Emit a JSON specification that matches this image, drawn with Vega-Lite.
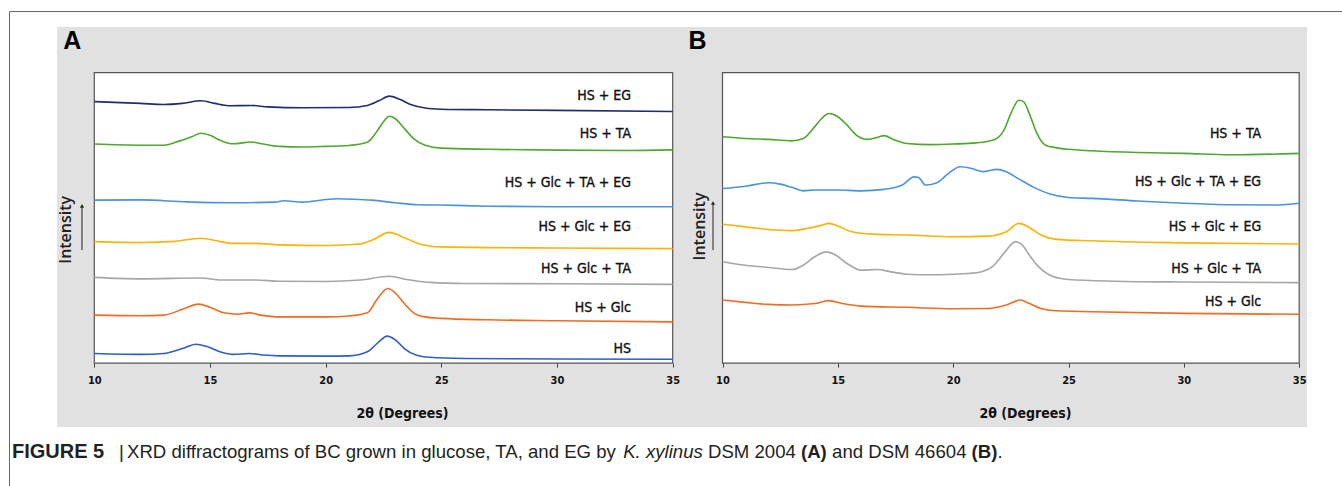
{
  "$schema": "https://vega.github.io/schema/vega-lite/v6.json",
  "background": "white",
  "padding": {"left": 9, "top": 11, "right": 0, "bottom": 0},
  "bounds": "flush",
  "config": {"view": {"stroke": null}, "axis": {"grid": false}, "font": "Liberation Sans"},
  "spacing": 0,
  "resolve": {"scale": {"x": "independent", "y": "independent"}},
  "datasets": {
    "xrd": [
      {"panel":"A","series":"HS + EG","x":10,"y":90.0},{"panel":"A","series":"HS + EG","x":12,"y":89.4},{"panel":"A","series":"HS + EG","x":13,"y":89.0},{"panel":"A","series":"HS + EG","x":13.8,"y":89.4},{"panel":"A","series":"HS + EG","x":14.6,"y":90.3},{"panel":"A","series":"HS + EG","x":15.2,"y":89.4},{"panel":"A","series":"HS + EG","x":15.8,"y":88.6},{"panel":"A","series":"HS + EG","x":16.8,"y":88.7},{"panel":"A","series":"HS + EG","x":17.5,"y":88.2},{"panel":"A","series":"HS + EG","x":19,"y":87.9},{"panel":"A","series":"HS + EG","x":21,"y":88.0},{"panel":"A","series":"HS + EG","x":21.8,"y":88.7},{"panel":"A","series":"HS + EG","x":22.3,"y":90.3},{"panel":"A","series":"HS + EG","x":22.75,"y":91.9},{"panel":"A","series":"HS + EG","x":23.2,"y":90.8},{"panel":"A","series":"HS + EG","x":23.7,"y":88.9},{"panel":"A","series":"HS + EG","x":24.3,"y":87.8},{"panel":"A","series":"HS + EG","x":25,"y":87.4},{"panel":"A","series":"HS + EG","x":27,"y":87.2},{"panel":"A","series":"HS + EG","x":30,"y":87.0},{"panel":"A","series":"HS + EG","x":35,"y":86.6},
      {"panel":"A","series":"HS + TA","x":10,"y":75.4},{"panel":"A","series":"HS + TA","x":12,"y":75.0},{"panel":"A","series":"HS + TA","x":13,"y":75.0},{"panel":"A","series":"HS + TA","x":13.7,"y":76.5},{"panel":"A","series":"HS + TA","x":14.2,"y":77.9},{"panel":"A","series":"HS + TA","x":14.6,"y":79.1},{"panel":"A","series":"HS + TA","x":15,"y":78.4},{"panel":"A","series":"HS + TA","x":15.5,"y":76.5},{"panel":"A","series":"HS + TA","x":16,"y":75.5},{"panel":"A","series":"HS + TA","x":16.8,"y":76.1},{"panel":"A","series":"HS + TA","x":17.3,"y":75.4},{"panel":"A","series":"HS + TA","x":18,"y":74.6},{"panel":"A","series":"HS + TA","x":19,"y":74.4},{"panel":"A","series":"HS + TA","x":20,"y":74.6},{"panel":"A","series":"HS + TA","x":21,"y":74.9},{"panel":"A","series":"HS + TA","x":21.8,"y":76.0},{"panel":"A","series":"HS + TA","x":22.2,"y":79.6},{"panel":"A","series":"HS + TA","x":22.5,"y":83.1},{"panel":"A","series":"HS + TA","x":22.75,"y":85.0},{"panel":"A","series":"HS + TA","x":23,"y":84.2},{"panel":"A","series":"HS + TA","x":23.4,"y":80.8},{"panel":"A","series":"HS + TA","x":23.8,"y":77.3},{"panel":"A","series":"HS + TA","x":24.3,"y":75.0},{"panel":"A","series":"HS + TA","x":25,"y":74.0},{"panel":"A","series":"HS + TA","x":27,"y":73.6},{"panel":"A","series":"HS + TA","x":30,"y":73.3},{"panel":"A","series":"HS + TA","x":33,"y":73.2},{"panel":"A","series":"HS + TA","x":35,"y":73.4},
      {"panel":"A","series":"HS + Glc + TA + EG","x":10,"y":56.1},{"panel":"A","series":"HS + Glc + TA + EG","x":12,"y":56.2},{"panel":"A","series":"HS + Glc + TA + EG","x":14,"y":55.5},{"panel":"A","series":"HS + Glc + TA + EG","x":16,"y":55.2},{"panel":"A","series":"HS + Glc + TA + EG","x":17.8,"y":55.4},{"panel":"A","series":"HS + Glc + TA + EG","x":18.2,"y":55.9},{"panel":"A","series":"HS + Glc + TA + EG","x":19,"y":55.4},{"panel":"A","series":"HS + Glc + TA + EG","x":20,"y":56.3},{"panel":"A","series":"HS + Glc + TA + EG","x":20.5,"y":56.6},{"panel":"A","series":"HS + Glc + TA + EG","x":21.5,"y":56.3},{"panel":"A","series":"HS + Glc + TA + EG","x":22,"y":56.1},{"panel":"A","series":"HS + Glc + TA + EG","x":23,"y":55.2},{"panel":"A","series":"HS + Glc + TA + EG","x":24,"y":54.5},{"panel":"A","series":"HS + Glc + TA + EG","x":25,"y":54.4},{"panel":"A","series":"HS + Glc + TA + EG","x":27,"y":54.0},{"panel":"A","series":"HS + Glc + TA + EG","x":30,"y":53.8},{"panel":"A","series":"HS + Glc + TA + EG","x":35,"y":53.8},
      {"panel":"A","series":"HS + Glc + EG","x":10,"y":41.8},{"panel":"A","series":"HS + Glc + EG","x":12,"y":41.5},{"panel":"A","series":"HS + Glc + EG","x":13.5,"y":41.9},{"panel":"A","series":"HS + Glc + EG","x":14.6,"y":43.0},{"panel":"A","series":"HS + Glc + EG","x":15.3,"y":42.1},{"panel":"A","series":"HS + Glc + EG","x":16,"y":41.2},{"panel":"A","series":"HS + Glc + EG","x":17,"y":41.2},{"panel":"A","series":"HS + Glc + EG","x":18,"y":40.7},{"panel":"A","series":"HS + Glc + EG","x":20,"y":40.5},{"panel":"A","series":"HS + Glc + EG","x":21.5,"y":41.0},{"panel":"A","series":"HS + Glc + EG","x":22,"y":42.3},{"panel":"A","series":"HS + Glc + EG","x":22.75,"y":45.0},{"panel":"A","series":"HS + Glc + EG","x":23.3,"y":43.5},{"panel":"A","series":"HS + Glc + EG","x":24,"y":41.2},{"panel":"A","series":"HS + Glc + EG","x":25,"y":40.0},{"panel":"A","series":"HS + Glc + EG","x":30,"y":39.6},{"panel":"A","series":"HS + Glc + EG","x":35,"y":39.4},
      {"panel":"A","series":"HS + Glc + TA","x":10,"y":29.5},{"panel":"A","series":"HS + Glc + TA","x":12,"y":29.0},{"panel":"A","series":"HS + Glc + TA","x":14.6,"y":29.3},{"panel":"A","series":"HS + Glc + TA","x":15.5,"y":28.6},{"panel":"A","series":"HS + Glc + TA","x":17,"y":28.6},{"panel":"A","series":"HS + Glc + TA","x":18,"y":28.2},{"panel":"A","series":"HS + Glc + TA","x":20,"y":28.1},{"panel":"A","series":"HS + Glc + TA","x":21.5,"y":28.6},{"panel":"A","series":"HS + Glc + TA","x":22.75,"y":29.9},{"panel":"A","series":"HS + Glc + TA","x":23.5,"y":28.8},{"panel":"A","series":"HS + Glc + TA","x":24.5,"y":27.8},{"panel":"A","series":"HS + Glc + TA","x":26,"y":27.4},{"panel":"A","series":"HS + Glc + TA","x":30,"y":27.3},{"panel":"A","series":"HS + Glc + TA","x":35,"y":27.1},
      {"panel":"A","series":"HS + Glc","x":10,"y":16.5},{"panel":"A","series":"HS + Glc","x":12,"y":16.3},{"panel":"A","series":"HS + Glc","x":13,"y":16.5},{"panel":"A","series":"HS + Glc","x":13.8,"y":18.5},{"panel":"A","series":"HS + Glc","x":14.5,"y":20.3},{"panel":"A","series":"HS + Glc","x":15,"y":19.2},{"panel":"A","series":"HS + Glc","x":15.6,"y":17.3},{"panel":"A","series":"HS + Glc","x":16.2,"y":16.8},{"panel":"A","series":"HS + Glc","x":16.7,"y":17.3},{"panel":"A","series":"HS + Glc","x":17.2,"y":16.5},{"panel":"A","series":"HS + Glc","x":18,"y":15.9},{"panel":"A","series":"HS + Glc","x":20,"y":15.9},{"panel":"A","series":"HS + Glc","x":21,"y":16.2},{"panel":"A","series":"HS + Glc","x":21.8,"y":17.3},{"panel":"A","series":"HS + Glc","x":22.2,"y":21.7},{"panel":"A","series":"HS + Glc","x":22.55,"y":25.1},{"panel":"A","series":"HS + Glc","x":22.7,"y":25.7},{"panel":"A","series":"HS + Glc","x":23,"y":24.2},{"panel":"A","series":"HS + Glc","x":23.4,"y":20.5},{"panel":"A","series":"HS + Glc","x":23.8,"y":17.3},{"panel":"A","series":"HS + Glc","x":24.3,"y":15.9},{"panel":"A","series":"HS + Glc","x":25,"y":15.4},{"panel":"A","series":"HS + Glc","x":27,"y":14.9},{"panel":"A","series":"HS + Glc","x":30,"y":14.6},{"panel":"A","series":"HS + Glc","x":35,"y":14.2},
      {"panel":"A","series":"HS","x":10,"y":3.3},{"panel":"A","series":"HS","x":12,"y":3.0},{"panel":"A","series":"HS","x":13,"y":3.3},{"panel":"A","series":"HS","x":13.8,"y":5.0},{"panel":"A","series":"HS","x":14.4,"y":6.5},{"panel":"A","series":"HS","x":14.9,"y":5.6},{"panel":"A","series":"HS","x":15.5,"y":3.7},{"panel":"A","series":"HS","x":16,"y":3.0},{"panel":"A","series":"HS","x":16.7,"y":3.3},{"panel":"A","series":"HS","x":17.3,"y":2.8},{"panel":"A","series":"HS","x":18,"y":2.5},{"panel":"A","series":"HS","x":20,"y":2.4},{"panel":"A","series":"HS","x":21,"y":2.5},{"panel":"A","series":"HS","x":21.8,"y":3.9},{"panel":"A","series":"HS","x":22.3,"y":7.3},{"panel":"A","series":"HS","x":22.65,"y":9.3},{"panel":"A","series":"HS","x":23,"y":8.1},{"panel":"A","series":"HS","x":23.4,"y":5.0},{"panel":"A","series":"HS","x":23.9,"y":2.8},{"panel":"A","series":"HS","x":24.5,"y":2.0},{"panel":"A","series":"HS","x":26,"y":1.6},{"panel":"A","series":"HS","x":30,"y":1.4},{"panel":"A","series":"HS","x":35,"y":1.3},
      {"panel":"B","series":"HS + TA","x":10,"y":77.9},{"panel":"B","series":"HS + TA","x":11,"y":77.3},{"panel":"B","series":"HS + TA","x":12,"y":77.0},{"panel":"B","series":"HS + TA","x":13,"y":76.5},{"panel":"B","series":"HS + TA","x":13.5,"y":77.3},{"panel":"B","series":"HS + TA","x":14,"y":81.4},{"panel":"B","series":"HS + TA","x":14.3,"y":84.2},{"panel":"B","series":"HS + TA","x":14.6,"y":85.9},{"panel":"B","series":"HS + TA","x":15,"y":84.8},{"panel":"B","series":"HS + TA","x":15.4,"y":81.9},{"panel":"B","series":"HS + TA","x":15.8,"y":78.5},{"panel":"B","series":"HS + TA","x":16.3,"y":77.0},{"panel":"B","series":"HS + TA","x":16.8,"y":77.9},{"panel":"B","series":"HS + TA","x":17,"y":78.3},{"panel":"B","series":"HS + TA","x":17.4,"y":77.0},{"panel":"B","series":"HS + TA","x":18,"y":75.6},{"panel":"B","series":"HS + TA","x":19,"y":75.2},{"panel":"B","series":"HS + TA","x":20,"y":75.4},{"panel":"B","series":"HS + TA","x":21,"y":75.8},{"panel":"B","series":"HS + TA","x":21.8,"y":77.0},{"panel":"B","series":"HS + TA","x":22.2,"y":80.2},{"panel":"B","series":"HS + TA","x":22.5,"y":85.9},{"panel":"B","series":"HS + TA","x":22.85,"y":90.5},{"panel":"B","series":"HS + TA","x":23.05,"y":90.0},{"panel":"B","series":"HS + TA","x":23.3,"y":85.9},{"panel":"B","series":"HS + TA","x":23.6,"y":79.6},{"panel":"B","series":"HS + TA","x":24,"y":75.0},{"panel":"B","series":"HS + TA","x":24.5,"y":74.1},{"panel":"B","series":"HS + TA","x":25,"y":73.6},{"panel":"B","series":"HS + TA","x":26,"y":73.1},{"panel":"B","series":"HS + TA","x":28,"y":72.5},{"panel":"B","series":"HS + TA","x":30,"y":72.2},{"panel":"B","series":"HS + TA","x":32,"y":71.7},{"panel":"B","series":"HS + TA","x":35,"y":72.2},
      {"panel":"B","series":"HS + Glc + TA + EG","x":10,"y":60.1},{"panel":"B","series":"HS + Glc + TA + EG","x":11,"y":60.9},{"panel":"B","series":"HS + Glc + TA + EG","x":12,"y":62.1},{"panel":"B","series":"HS + Glc + TA + EG","x":12.5,"y":61.6},{"panel":"B","series":"HS + Glc + TA + EG","x":13,"y":60.5},{"panel":"B","series":"HS + Glc + TA + EG","x":13.5,"y":59.3},{"panel":"B","series":"HS + Glc + TA + EG","x":14,"y":59.6},{"panel":"B","series":"HS + Glc + TA + EG","x":15,"y":59.6},{"panel":"B","series":"HS + Glc + TA + EG","x":16,"y":59.3},{"panel":"B","series":"HS + Glc + TA + EG","x":17,"y":59.8},{"panel":"B","series":"HS + Glc + TA + EG","x":17.8,"y":61.3},{"panel":"B","series":"HS + Glc + TA + EG","x":18.3,"y":64.1},{"panel":"B","series":"HS + Glc + TA + EG","x":18.5,"y":63.9},{"panel":"B","series":"HS + Glc + TA + EG","x":18.8,"y":61.3},{"panel":"B","series":"HS + Glc + TA + EG","x":19.3,"y":62.1},{"panel":"B","series":"HS + Glc + TA + EG","x":19.8,"y":65.3},{"panel":"B","series":"HS + Glc + TA + EG","x":20.3,"y":67.6},{"panel":"B","series":"HS + Glc + TA + EG","x":20.8,"y":67.0},{"panel":"B","series":"HS + Glc + TA + EG","x":21.3,"y":65.9},{"panel":"B","series":"HS + Glc + TA + EG","x":21.9,"y":66.7},{"panel":"B","series":"HS + Glc + TA + EG","x":22.3,"y":65.9},{"panel":"B","series":"HS + Glc + TA + EG","x":22.8,"y":63.6},{"panel":"B","series":"HS + Glc + TA + EG","x":23.5,"y":60.5},{"panel":"B","series":"HS + Glc + TA + EG","x":24.2,"y":58.2},{"panel":"B","series":"HS + Glc + TA + EG","x":25,"y":57.0},{"panel":"B","series":"HS + Glc + TA + EG","x":26,"y":56.7},{"panel":"B","series":"HS + Glc + TA + EG","x":28,"y":55.8},{"panel":"B","series":"HS + Glc + TA + EG","x":30,"y":55.0},{"panel":"B","series":"HS + Glc + TA + EG","x":32,"y":54.5},{"panel":"B","series":"HS + Glc + TA + EG","x":34,"y":54.4},{"panel":"B","series":"HS + Glc + TA + EG","x":35,"y":55.0},
      {"panel":"B","series":"HS + Glc + EG","x":10,"y":47.8},{"panel":"B","series":"HS + Glc + EG","x":11,"y":46.9},{"panel":"B","series":"HS + Glc + EG","x":12,"y":46.0},{"panel":"B","series":"HS + Glc + EG","x":13,"y":45.6},{"panel":"B","series":"HS + Glc + EG","x":13.7,"y":46.4},{"panel":"B","series":"HS + Glc + EG","x":14.3,"y":47.5},{"panel":"B","series":"HS + Glc + EG","x":14.6,"y":48.1},{"panel":"B","series":"HS + Glc + EG","x":15,"y":47.2},{"panel":"B","series":"HS + Glc + EG","x":15.6,"y":45.2},{"panel":"B","series":"HS + Glc + EG","x":16.5,"y":44.4},{"panel":"B","series":"HS + Glc + EG","x":18,"y":44.1},{"panel":"B","series":"HS + Glc + EG","x":20,"y":43.5},{"panel":"B","series":"HS + Glc + EG","x":21.5,"y":43.7},{"panel":"B","series":"HS + Glc + EG","x":22.3,"y":45.2},{"panel":"B","series":"HS + Glc + EG","x":22.85,"y":48.1},{"panel":"B","series":"HS + Glc + EG","x":23.3,"y":46.7},{"panel":"B","series":"HS + Glc + EG","x":23.8,"y":44.1},{"panel":"B","series":"HS + Glc + EG","x":24.5,"y":42.6},{"panel":"B","series":"HS + Glc + EG","x":26,"y":42.1},{"panel":"B","series":"HS + Glc + EG","x":30,"y":41.4},{"panel":"B","series":"HS + Glc + EG","x":35,"y":41.0},
      {"panel":"B","series":"HS + Glc + TA","x":10,"y":34.9},{"panel":"B","series":"HS + Glc + TA","x":11,"y":33.7},{"panel":"B","series":"HS + Glc + TA","x":12,"y":32.9},{"panel":"B","series":"HS + Glc + TA","x":13,"y":32.2},{"panel":"B","series":"HS + Glc + TA","x":13.5,"y":33.7},{"panel":"B","series":"HS + Glc + TA","x":14,"y":36.6},{"panel":"B","series":"HS + Glc + TA","x":14.5,"y":38.3},{"panel":"B","series":"HS + Glc + TA","x":14.9,"y":37.2},{"panel":"B","series":"HS + Glc + TA","x":15.4,"y":34.3},{"panel":"B","series":"HS + Glc + TA","x":16,"y":32.0},{"panel":"B","series":"HS + Glc + TA","x":16.7,"y":32.2},{"panel":"B","series":"HS + Glc + TA","x":17.3,"y":31.4},{"panel":"B","series":"HS + Glc + TA","x":18,"y":30.6},{"panel":"B","series":"HS + Glc + TA","x":19,"y":30.4},{"panel":"B","series":"HS + Glc + TA","x":20,"y":30.6},{"panel":"B","series":"HS + Glc + TA","x":21,"y":31.1},{"panel":"B","series":"HS + Glc + TA","x":21.7,"y":33.2},{"panel":"B","series":"HS + Glc + TA","x":22.2,"y":37.8},{"panel":"B","series":"HS + Glc + TA","x":22.7,"y":41.8},{"panel":"B","series":"HS + Glc + TA","x":23,"y":40.6},{"panel":"B","series":"HS + Glc + TA","x":23.3,"y":37.2},{"panel":"B","series":"HS + Glc + TA","x":23.7,"y":33.2},{"panel":"B","series":"HS + Glc + TA","x":24.3,"y":29.9},{"panel":"B","series":"HS + Glc + TA","x":25,"y":28.8},{"panel":"B","series":"HS + Glc + TA","x":27,"y":28.2},{"panel":"B","series":"HS + Glc + TA","x":30,"y":27.9},{"panel":"B","series":"HS + Glc + TA","x":35,"y":27.7},
      {"panel":"B","series":"HS + Glc","x":10,"y":21.7},{"panel":"B","series":"HS + Glc","x":11,"y":20.9},{"panel":"B","series":"HS + Glc","x":12,"y":20.2},{"panel":"B","series":"HS + Glc","x":13,"y":20.0},{"panel":"B","series":"HS + Glc","x":14,"y":20.5},{"panel":"B","series":"HS + Glc","x":14.6,"y":21.5},{"panel":"B","series":"HS + Glc","x":15.2,"y":20.5},{"panel":"B","series":"HS + Glc","x":16,"y":19.6},{"panel":"B","series":"HS + Glc","x":18,"y":19.2},{"panel":"B","series":"HS + Glc","x":20,"y":18.7},{"panel":"B","series":"HS + Glc","x":21.5,"y":18.8},{"panel":"B","series":"HS + Glc","x":22.3,"y":20.0},{"panel":"B","series":"HS + Glc","x":22.9,"y":21.7},{"panel":"B","series":"HS + Glc","x":23.3,"y":20.5},{"panel":"B","series":"HS + Glc","x":23.8,"y":18.8},{"panel":"B","series":"HS + Glc","x":24.5,"y":18.0},{"panel":"B","series":"HS + Glc","x":26,"y":17.7},{"panel":"B","series":"HS + Glc","x":30,"y":17.1},{"panel":"B","series":"HS + Glc","x":35,"y":16.8}
    ],
    "labels": [
      {"panel":"A","label":"HS + EG","x":33.2,"y":91.9},
      {"panel":"A","label":"HS + TA","x":33.2,"y":78.7},
      {"panel":"A","label":"HS + Glc + TA + EG","x":33.2,"y":62.1},
      {"panel":"A","label":"HS + Glc + EG","x":33.2,"y":46.7},
      {"panel":"A","label":"HS + Glc + TA","x":33.2,"y":32.4},
      {"panel":"A","label":"HS + Glc","x":33.2,"y":19.0},
      {"panel":"A","label":"HS","x":33.2,"y":5.0},
      {"panel":"B","label":"HS + TA","x":33.35,"y":78.7},
      {"panel":"B","label":"HS + Glc + TA + EG","x":33.35,"y":62.2},
      {"panel":"B","label":"HS + Glc + EG","x":33.35,"y":46.7},
      {"panel":"B","label":"HS + Glc + TA","x":33.35,"y":32.4},
      {"panel":"B","label":"HS + Glc","x":33.35,"y":20.9}
    ]
  },
  "hconcat": [
    {
      "width": 628,
      "height": 400,
      "view": {"fill": "#e1e1e1", "stroke": null},
      "layer": [
        {
          "data": {"values": [{}]},
          "mark": {"type": "rect", "fill": "white", "stroke": "#555555", "strokeWidth": 1.2},
          "encoding": {
            "x": {"datum": 10, "type": "quantitative"},
            "x2": {"datum": 35},
            "y": {"datum": 0, "type": "quantitative"},
            "y2": {"datum": 100}
          }
        },
        {
          "data": {"name": "xrd"},
          "transform": [{"filter": "datum.panel === 'A'"}],
          "mark": {"type": "line", "strokeWidth": 1.6, "interpolate": "monotone"},
          "encoding": {
            "x": {"field": "x", "type": "quantitative",
              "scale": {"domain": [8.388, 35.532], "nice": false, "zero": false},
              "axis": {"values": [10, 15, 20, 25, 30, 35], "orient": "bottom", "offset": -63.9, "domain": false, "grid": false, "ticks": true, "labels": true, "tickSize": 4, "tickColor": "#444444", "tickWidth": 1, "labelFont": "DejaVu Sans Condensed", "labelFontSize": 11, "labelFontWeight": "bold", "labelColor": "#111111", "labelPadding": 13, "labelBaseline": "middle", "labelFlush": false, "labelOverlap": false, "format": "d", "title": "2θ (Degrees)", "titleX": 345, "titleY": 50, "titleAlign": "center", "titleBaseline": "middle", "titleFont": "DejaVu Sans Condensed", "titleFontSize": 14, "titleFontWeight": "bold", "titleColor": "#111111", "minExtent": 0}},
            "y": {"field": "y", "type": "quantitative",
              "scale": {"domain": [-22, 115.7], "nice": false, "zero": false},
              "axis": {"orient": "left", "domain": false, "ticks": false, "labels": false, "grid": false, "title": "Intensity", "titleAngle": -90, "titleX": 8.5, "titleY": 202.3, "titleAlign": "center", "titleBaseline": "middle", "titleFont": "Open Sans", "titleFontSize": 16, "titleFontWeight": 600, "titleColor": "#222222", "minExtent": 0}},
            "color": {"field": "series", "type": "nominal", "legend": null,
              "scale": {"domain": ["HS + EG", "HS + TA", "HS + Glc + TA + EG", "HS + Glc + EG", "HS + Glc + TA", "HS + Glc", "HS"],
                        "range": ["#1e2d6e", "#4ea72e", "#4a93de", "#ffb200", "#a6a6a6", "#f26b21", "#2d5dca"]}}
          }
        },
        {
          "data": {"name": "labels"},
          "transform": [{"filter": "datum.panel === 'A'"}],
          "mark": {"type": "text", "align": "right", "baseline": "middle", "font": "DejaVu Sans Condensed", "fontSize": 14, "color": "#111111", "stroke": "#111111", "strokeWidth": 0.35},
          "encoding": {
            "x": {"field": "x", "type": "quantitative"},
            "y": {"field": "y", "type": "quantitative"},
            "text": {"field": "label"}
          }
        },
        {
          "data": {"values": [{}]},
          "mark": {"type": "text", "text": "A", "align": "left", "baseline": "alphabetic", "font": "Liberation Sans", "fontSize": 25, "fontWeight": "bold", "color": "#000000"},
          "encoding": {"x": {"datum": 8.66, "type": "quantitative"}, "y": {"datum": 108.2, "type": "quantitative"}}
        },
        {
          "data": {"values": [{}]},
          "mark": {"type": "rule", "color": "#222222", "strokeWidth": 1},
          "encoding": {"x": {"datum": 9.468, "type": "quantitative"}, "y": {"datum": 38.9, "type": "quantitative"}, "y2": {"datum": 54.0}}
        },
        {
          "data": {"values": [{}]},
          "mark": {"type": "point", "shape": "triangle-up", "filled": true, "size": 18, "color": "#222222", "opacity": 1},
          "encoding": {"x": {"datum": 9.468, "type": "quantitative"}, "y": {"datum": 54.1, "type": "quantitative"}}
        },
        {
          "data": {"values": [{}]},
          "mark": {"type": "rule", "color": "#666666", "strokeWidth": 1},
          "encoding": {"x": {"datum": 6.335, "type": "quantitative"}, "x2": {"datum": 64.1}, "y": {"datum": 121.03, "type": "quantitative"}}
        },
        {
          "data": {"values": [{}]},
          "mark": {"type": "rule", "color": "#666666", "strokeWidth": 1},
          "encoding": {"x": {"datum": 6.335, "type": "quantitative"}, "y": {"datum": 121.03, "type": "quantitative"}, "y2": {"datum": -43.7}}
        },
        {
          "data": {"values": [{}]},
          "mark": {"type": "text", "text": "FIGURE 5", "align": "left", "baseline": "alphabetic", "font": "Liberation Sans", "fontSize": 20, "fontWeight": "bold", "color": "#231f20"},
          "encoding": {"x": {"datum": 6.443, "type": "quantitative"}, "y": {"datum": -32.5, "type": "quantitative"}}
        },
        {
          "data": {"values": [{}]},
          "mark": {"type": "text", "text": "|", "align": "left", "baseline": "alphabetic", "font": "Liberation Sans", "fontSize": 18.6, "fontWeight": "normal", "color": "#231f20"},
          "encoding": {"x": {"datum": 11.068, "type": "quantitative"}, "y": {"datum": -32.5, "type": "quantitative"}}
        },
        {
          "data": {"values": [{}]},
          "mark": {"type": "text", "text": "XRD diffractograms of BC grown in glucose, TA, and EG by", "align": "left", "baseline": "alphabetic", "font": "Liberation Sans", "fontSize": 18.6, "fontWeight": "normal", "color": "#231f20"},
          "encoding": {"x": {"datum": 11.414, "type": "quantitative"}, "y": {"datum": -32.5, "type": "quantitative"}}
        },
        {
          "data": {"values": [{}]},
          "mark": {"type": "text", "text": "K. xylinus", "align": "left", "baseline": "alphabetic", "font": "Liberation Sans", "fontSize": 18.6, "fontStyle": "italic", "color": "#231f20"},
          "encoding": {"x": {"datum": 32.861, "type": "quantitative"}, "y": {"datum": -32.5, "type": "quantitative"}}
        },
        {
          "data": {"values": [{}]},
          "mark": {"type": "text", "text": "DSM 2004", "align": "left", "baseline": "alphabetic", "font": "Liberation Sans", "fontSize": 18.6, "fontWeight": "normal", "color": "#231f20"},
          "encoding": {"x": {"datum": 36.526, "type": "quantitative"}, "y": {"datum": -32.5, "type": "quantitative"}}
        },
        {
          "data": {"values": [{}]},
          "mark": {"type": "text", "text": "(A)", "align": "left", "baseline": "alphabetic", "font": "Liberation Sans", "fontSize": 18.6, "fontWeight": "bold", "color": "#231f20"},
          "encoding": {"x": {"datum": 40.546, "type": "quantitative"}, "y": {"datum": -32.5, "type": "quantitative"}}
        },
        {
          "data": {"values": [{}]},
          "mark": {"type": "text", "text": "and DSM 46604", "align": "left", "baseline": "alphabetic", "font": "Liberation Sans", "fontSize": 18.6, "fontWeight": "normal", "color": "#231f20"},
          "encoding": {"x": {"datum": 41.89, "type": "quantitative"}, "y": {"datum": -32.5, "type": "quantitative"}}
        },
        {
          "data": {"values": [{}]},
          "mark": {"type": "text", "text": "(B)", "align": "left", "baseline": "alphabetic", "font": "Liberation Sans", "fontSize": 18.6, "fontWeight": "bold", "color": "#231f20"},
          "encoding": {"x": {"datum": 47.92, "type": "quantitative"}, "y": {"datum": -32.5, "type": "quantitative"}}
        },
        {
          "data": {"values": [{}]},
          "mark": {"type": "text", "text": ".", "align": "left", "baseline": "alphabetic", "font": "Liberation Sans", "fontSize": 18.6, "fontWeight": "normal", "color": "#231f20"},
          "encoding": {"x": {"datum": 49.035, "type": "quantitative"}, "y": {"datum": -32.5, "type": "quantitative"}}
        }
      ]
    },
    {
      "width": 622,
      "height": 400,
      "view": {"fill": "#e1e1e1", "stroke": null},
      "layer": [
        {
          "data": {"values": [{}]},
          "mark": {"type": "rect", "fill": "white", "stroke": "#555555", "strokeWidth": 1.2},
          "encoding": {
            "x": {"datum": 10, "type": "quantitative"},
            "x2": {"datum": 35},
            "y": {"datum": 0, "type": "quantitative"},
            "y2": {"datum": 100}
          }
        },
        {
          "data": {"name": "xrd"},
          "transform": [{"filter": "datum.panel === 'B'"}],
          "mark": {"type": "line", "strokeWidth": 1.6, "interpolate": "monotone"},
          "encoding": {
            "x": {"field": "x", "type": "quantitative",
              "scale": {"domain": [8.374, 35.338], "nice": false, "zero": false},
              "axis": {"values": [10, 15, 20, 25, 30, 35], "orient": "bottom", "offset": -63.9, "domain": false, "grid": false, "ticks": true, "labels": true, "tickSize": 4, "tickColor": "#444444", "tickWidth": 1, "labelFont": "DejaVu Sans Condensed", "labelFontSize": 11, "labelFontWeight": "bold", "labelColor": "#111111", "labelPadding": 13, "labelBaseline": "middle", "labelFlush": false, "labelOverlap": false, "format": "d", "title": "2θ (Degrees)", "titleX": 340, "titleY": 50, "titleAlign": "center", "titleBaseline": "middle", "titleFont": "DejaVu Sans Condensed", "titleFontSize": 14, "titleFontWeight": "bold", "titleColor": "#111111", "minExtent": 0}},
            "y": {"field": "y", "type": "quantitative",
              "scale": {"domain": [-22, 115.7], "nice": false, "zero": false},
              "axis": {"orient": "left", "domain": false, "ticks": false, "labels": false, "grid": false, "title": "Intensity", "titleAngle": -90, "titleX": 14, "titleY": 199, "titleAlign": "center", "titleBaseline": "middle", "titleFont": "Open Sans", "titleFontSize": 16, "titleFontWeight": 600, "titleColor": "#222222", "minExtent": 0}},
            "color": {"field": "series", "type": "nominal", "legend": null,
              "scale": {"domain": ["HS + EG", "HS + TA", "HS + Glc + TA + EG", "HS + Glc + EG", "HS + Glc + TA", "HS + Glc", "HS"],
                        "range": ["#1e2d6e", "#4ea72e", "#4a93de", "#ffb200", "#a6a6a6", "#f26b21", "#2d5dca"]}}
          }
        },
        {
          "data": {"name": "labels"},
          "transform": [{"filter": "datum.panel === 'B'"}],
          "mark": {"type": "text", "align": "right", "baseline": "middle", "font": "DejaVu Sans Condensed", "fontSize": 14, "color": "#111111", "stroke": "#111111", "strokeWidth": 0.35},
          "encoding": {
            "x": {"field": "x", "type": "quantitative"},
            "y": {"field": "y", "type": "quantitative"},
            "text": {"field": "label"}
          }
        },
        {
          "data": {"values": [{}]},
          "mark": {"type": "text", "text": "B", "align": "left", "baseline": "alphabetic", "font": "Liberation Sans", "fontSize": 25, "fontWeight": "bold", "color": "#000000"},
          "encoding": {"x": {"datum": 8.521, "type": "quantitative"}, "y": {"datum": 108.2, "type": "quantitative"}}
        },
        {
          "data": {"values": [{}]},
          "mark": {"type": "rule", "color": "#222222", "strokeWidth": 1},
          "encoding": {"x": {"datum": 9.588, "type": "quantitative"}, "y": {"datum": 38.9, "type": "quantitative"}, "y2": {"datum": 55.0}}
        },
        {
          "data": {"values": [{}]},
          "mark": {"type": "point", "shape": "triangle-up", "filled": true, "size": 18, "color": "#222222", "opacity": 1},
          "encoding": {"x": {"datum": 9.588, "type": "quantitative"}, "y": {"datum": 55.1, "type": "quantitative"}}
        }
      ]
    }
  ]
}
